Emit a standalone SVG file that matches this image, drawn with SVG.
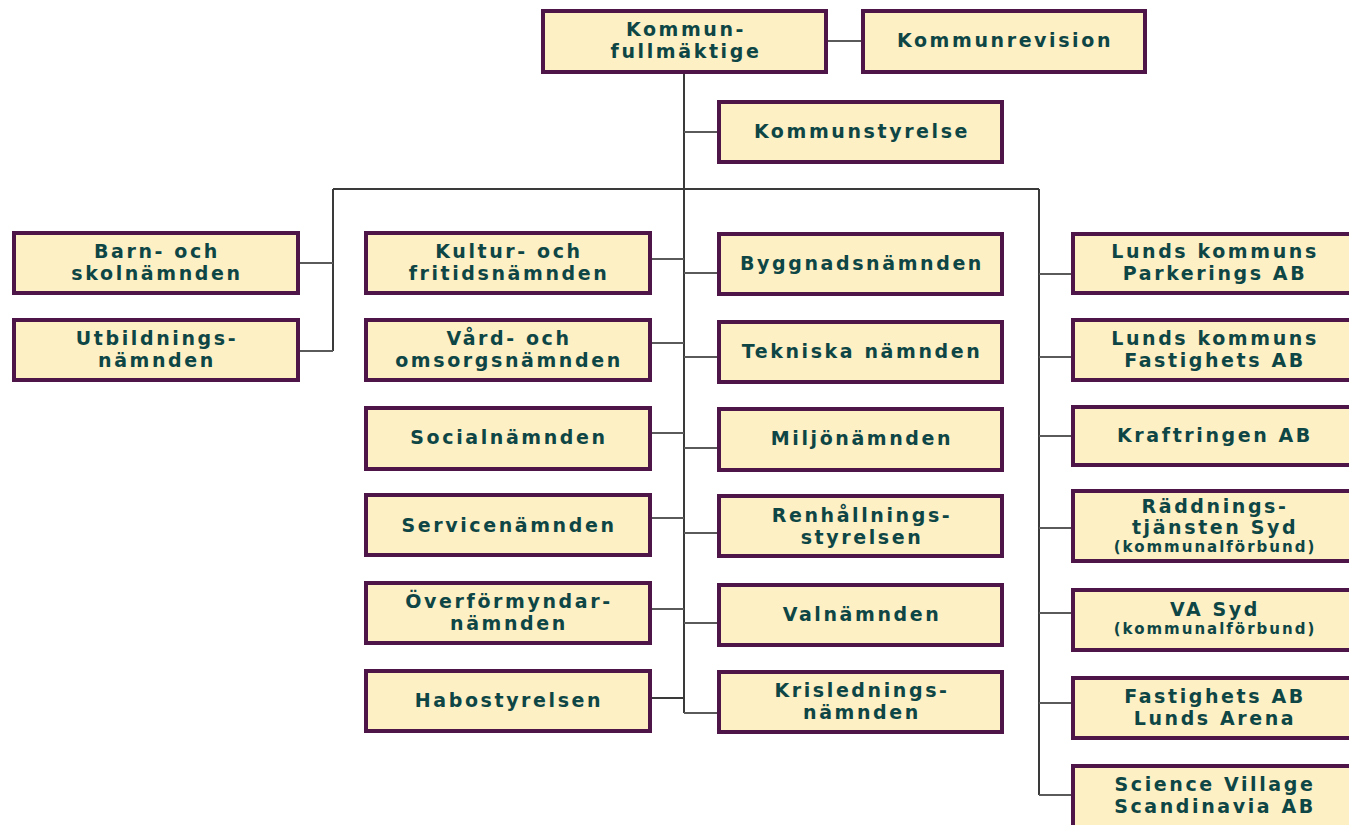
<svg xmlns="http://www.w3.org/2000/svg" width="1349" height="825" viewBox="0 0 1349 825">
<style>
.box{fill:#fdf0c4;stroke:#4e1548;stroke-width:4}
.t{font-family:"DejaVu Sans",Verdana,sans-serif;font-weight:bold;font-size:19px;letter-spacing:2.6px;fill:#0e4646;text-anchor:middle}
.s{font-size:15px;letter-spacing:2px}
.ln{stroke:#3a3a3a;stroke-width:2;fill:none}
.hl{stroke:#5a5a5a;stroke-width:2;fill:none}
</style>
<rect width="1349" height="825" fill="#ffffff"/>
<g id="connectors">
  <line class="hl" x1="828" y1="41" x2="861" y2="41"/>
  <line class="ln" x1="684" y1="74" x2="684" y2="713"/>
  <line class="hl" x1="684" y1="132" x2="717" y2="132"/>
  <line class="ln" x1="333" y1="189" x2="1039" y2="189"/>
  <line class="ln" x1="333" y1="189" x2="333" y2="351"/>
  <line class="hl" x1="300" y1="263" x2="333" y2="263"/>
  <line class="hl" x1="300" y1="351" x2="333" y2="351"/>
  <line class="hl" x1="652" y1="259" x2="684" y2="259"/>
  <line class="hl" x1="652" y1="343" x2="684" y2="343"/>
  <line class="hl" x1="652" y1="433" x2="684" y2="433"/>
  <line class="hl" x1="652" y1="518" x2="684" y2="518"/>
  <line class="hl" x1="652" y1="609" x2="684" y2="609"/>
  <line class="ln" x1="652" y1="698" x2="684" y2="698" stroke-width="3"/>
  <line class="hl" x1="684" y1="273" x2="717" y2="273"/>
  <line class="hl" x1="684" y1="357" x2="717" y2="357"/>
  <line class="hl" x1="684" y1="448" x2="717" y2="448"/>
  <line class="hl" x1="684" y1="533" x2="717" y2="533"/>
  <line class="hl" x1="684" y1="623" x2="717" y2="623"/>
  <line class="hl" x1="684" y1="713" x2="717" y2="713"/>
  <line class="ln" x1="1039" y1="189" x2="1039" y2="795"/>
  <line class="hl" x1="1039" y1="274" x2="1071" y2="274"/>
  <line class="hl" x1="1039" y1="357" x2="1071" y2="357"/>
  <line class="hl" x1="1039" y1="436" x2="1071" y2="436"/>
  <line class="hl" x1="1039" y1="528" x2="1071" y2="528"/>
  <line class="hl" x1="1039" y1="613" x2="1071" y2="613"/>
  <line class="hl" x1="1039" y1="703" x2="1071" y2="703"/>
  <line class="hl" x1="1039" y1="795" x2="1071" y2="795"/>
</g>
<g id="kommunfullmaktige"><rect class="box" x="543" y="11" width="283" height="61"/><text class="t" x="686" y="36">Kommun-</text><text class="t" x="686" y="58">fullmäktige</text></g>
<g id="kommunrevision"><rect class="box" x="863" y="11" width="282" height="61"/><text class="t" x="1005" y="47">Kommunrevision</text></g>
<g id="kommunstyrelse"><rect class="box" x="719" y="102" width="283" height="60"/><text class="t" x="862" y="138">Kommunstyrelse</text></g>

<g id="barn"><rect class="box" x="14" y="233" width="284" height="60"/><text class="t" x="157" y="258">Barn- och</text><text class="t" x="157" y="280">skolnämnden</text></g>
<g id="utbildning"><rect class="box" x="14" y="320" width="284" height="60"/><text class="t" x="157" y="345">Utbildnings-</text><text class="t" x="157" y="367">nämnden</text></g>

<g id="kultur"><rect class="box" x="366" y="233" width="284" height="60"/><text class="t" x="509" y="258">Kultur- och</text><text class="t" x="509" y="280">fritidsnämnden</text></g>
<g id="vard"><rect class="box" x="366" y="320" width="284" height="60"/><text class="t" x="509" y="345">Vård- och</text><text class="t" x="509" y="367">omsorgsnämnden</text></g>
<g id="social"><rect class="box" x="366" y="408" width="284" height="61"/><text class="t" x="509" y="444">Socialnämnden</text></g>
<g id="service"><rect class="box" x="366" y="495" width="284" height="60"/><text class="t" x="509" y="532">Servicenämnden</text></g>
<g id="overformyndar"><rect class="box" x="366" y="583" width="284" height="60"/><text class="t" x="509" y="608">Överförmyndar-</text><text class="t" x="509" y="630">nämnden</text></g>
<g id="habo"><rect class="box" x="366" y="671" width="284" height="60"/><text class="t" x="509" y="707">Habostyrelsen</text></g>

<g id="byggnad"><rect class="box" x="719" y="234" width="283" height="60"/><text class="t" x="862" y="270">Byggnadsnämnden</text></g>
<g id="tekniska"><rect class="box" x="719" y="322" width="283" height="60"/><text class="t" x="862" y="358">Tekniska nämnden</text></g>
<g id="miljo"><rect class="box" x="719" y="409" width="283" height="61"/><text class="t" x="862" y="445">Miljönämnden</text></g>
<g id="renhallning"><rect class="box" x="719" y="496" width="283" height="60"/><text class="t" x="862" y="522">Renhållnings-</text><text class="t" x="862" y="544">styrelsen</text></g>
<g id="val"><rect class="box" x="719" y="585" width="283" height="60"/><text class="t" x="862" y="621">Valnämnden</text></g>
<g id="kris"><rect class="box" x="719" y="672" width="283" height="60"/><text class="t" x="862" y="697">Krislednings-</text><text class="t" x="862" y="719">nämnden</text></g>

<g id="parkering"><rect class="box" x="1073" y="234" width="285" height="59"/><text class="t" x="1215" y="258">Lunds kommuns</text><text class="t" x="1215" y="280">Parkerings AB</text></g>
<g id="fastighets"><rect class="box" x="1073" y="320" width="285" height="60"/><text class="t" x="1215" y="345">Lunds kommuns</text><text class="t" x="1215" y="367">Fastighets AB</text></g>
<g id="kraftringen"><rect class="box" x="1073" y="407" width="285" height="58"/><text class="t" x="1215" y="442">Kraftringen AB</text></g>
<g id="raddning"><rect class="box" x="1073" y="491" width="285" height="70"/><text class="t" x="1215" y="513">Räddnings-</text><text class="t" x="1215" y="534">tjänsten Syd</text><text class="t s" x="1215" y="552">(kommunalförbund)</text></g>
<g id="vasyd"><rect class="box" x="1073" y="590" width="285" height="60"/><text class="t" x="1215" y="616">VA Syd</text><text class="t s" x="1215" y="634">(kommunalförbund)</text></g>
<g id="arena"><rect class="box" x="1073" y="678" width="285" height="60"/><text class="t" x="1215" y="703">Fastighets AB</text><text class="t" x="1215" y="725">Lunds Arena</text></g>
<g id="science"><rect class="box" x="1073" y="766" width="285" height="62"/><text class="t" x="1215" y="791">Science Village</text><text class="t" x="1215" y="813">Scandinavia AB</text></g>
</svg>
